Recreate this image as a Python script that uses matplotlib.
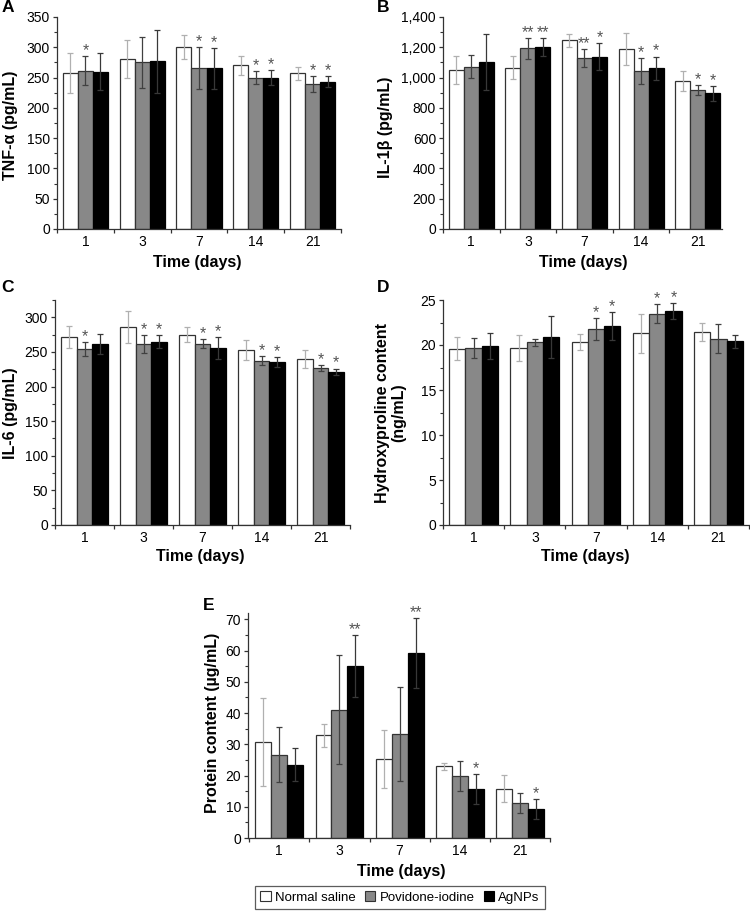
import numpy as np
import matplotlib.pyplot as plt
from matplotlib.patches import Patch
from matplotlib.ticker import MultipleLocator, FuncFormatter, FixedLocator

plt.rcParams['font.family'] = ['Liberation Sans', 'DejaVu Sans']

days = ['1', '3', '7', '14', '21']
groups = ['Normal saline', 'Povidone-iodine', 'AgNPs']

# A - TNF-alpha (pg/mL), rows = saline, povidone, AgNPs
tnf_mean = [[257, 281, 300, 270, 257],
            [261, 275, 266, 250, 239],
            [260, 277, 265, 250, 243]]
tnf_err = [[33, 31, 20, 15, 11],
           [24, 42, 35, 11, 13],
           [31, 52, 34, 12, 9]]
tnf_stars = [['', '', '', '', ''],
             ['*', '', '*', '*', '*'],
             ['', '', '*', '*', '*']]

# B - IL-1beta (pg/mL)
il1b_mean = [[1050, 1065, 1248, 1187, 980],
             [1072, 1193, 1130, 1043, 917],
             [1102, 1204, 1139, 1061, 896]]
il1b_err = [[93, 76, 43, 106, 66],
            [76, 70, 61, 85, 35],
            [185, 59, 90, 78, 50]]
il1b_stars = [['', '', '', '', ''],
              ['', '**', '**', '*', '*'],
              ['', '**', '*', '*', '*']]

# C - IL-6 (pg/mL)
il6_mean = [[271.5, 286.5, 275, 253, 240],
            [254, 261.5, 262, 237.5, 226.5],
            [261.5, 265, 256, 235, 221]]
il6_err = [[16, 23, 11, 14, 13],
           [10, 12.5, 6, 6, 4],
           [14, 9, 16, 7, 5]]
il6_stars = [['', '', '', '', ''],
             ['*', '*', '*', '*', '*'],
             ['', '*', '*', '*', '*']]

# D - Hydroxyproline content (ng/mL)
hyp_mean = [[19.6, 19.7, 20.3, 21.3, 21.4],
            [19.7, 20.3, 21.8, 23.5, 20.7],
            [19.9, 20.9, 22.1, 23.8, 20.4]]
hyp_err = [[1.25, 1.45, 0.9, 2.2, 1.0],
           [1.1, 0.4, 1.2, 1.0, 1.6],
           [1.4, 2.3, 1.55, 0.9, 0.75]]
hyp_stars = [['', '', '', '', ''],
             ['', '', '*', '*', ''],
             ['', '', '*', '*', '']]

# E - Protein content (ug/mL)
prot_mean = [[30.7, 32.9, 25.3, 22.9, 15.8],
             [26.7, 41.1, 33.2, 20.0, 11.3],
             [23.5, 55.1, 59.3, 15.6, 9.4]]
prot_err = [[14, 3.7, 9.4, 1.1, 4.4],
            [8.8, 17.4, 15.1, 4.8, 3.2],
            [5.2, 10, 11.2, 4.8, 3.2]]
prot_stars = [['', '', '', '', ''],
              ['', '', '', '', ''],
              ['', '**', '**', '*', '*']]

face = ['white', '#888888', 'black']
edge = ['#333333', '#333333', 'black']
ecol = ['#b0b0b0', '#404040', '#383838']

W, H = 750, 913
fig = plt.figure(figsize=(7.5, 9.13), dpi=100)


def rect(l, r, t, b):
    return [l / W, 1 - b / H, (r - l) / W, (b - t) / H]


def panel(box, mean, err, stars, ylim, major, minor, xlim=(-0.5, 4.5), fmt=None):
    ax = fig.add_axes(rect(*box))
    x = np.arange(len(days))
    w = 0.265
    for i in range(3):
        xs = x + (i - 1) * w
        ax.bar(xs, mean[i], w, color=face[i], edgecolor=edge[i], linewidth=0.9, zorder=2)
        ax.errorbar(xs, mean[i], yerr=err[i], fmt='none', ecolor=ecol[i],
                    elinewidth=0.9, capsize=2.5, capthick=0.9, zorder=3)
        for j in range(len(days)):
            if stars[i][j]:
                ax.annotate(stars[i][j], (xs[j], mean[i][j] + err[i][j]),
                            xytext=(0, -1.5), textcoords='offset points',
                            ha='center', va='bottom', fontsize=11.5, color='#555555')
    ax.set_xlim(*xlim)
    ax.set_ylim(*ylim)
    ax.spines['top'].set_visible(False)
    ax.spines['right'].set_visible(False)
    for s in ['left', 'bottom']:
        ax.spines[s].set_linewidth(0.9)
        ax.spines[s].set_color('#333333')
    ax.yaxis.set_major_locator(MultipleLocator(major))
    ax.yaxis.set_minor_locator(MultipleLocator(minor))
    if fmt:
        ax.yaxis.set_major_formatter(FuncFormatter(fmt))
    ax.xaxis.set_major_locator(FixedLocator(np.arange(-0.5, 5, 1)))
    ax.xaxis.set_minor_locator(FixedLocator(x))
    ax.xaxis.set_major_formatter(FuncFormatter(lambda v, p: ''))
    ax.set_xticklabels(days, minor=True)
    ax.tick_params(axis='x', which='minor', length=0, labelsize=10, pad=4)
    ax.tick_params(axis='x', which='major', length=3, width=0.9, color='#333333')
    ax.tick_params(axis='y', which='major', length=3, width=0.9, labelsize=10, pad=2, color='#333333')
    ax.tick_params(axis='y', which='minor', length=2, width=0.8, color='#333333')
    return ax


panel((57, 341, 17, 229), tnf_mean, tnf_err, tnf_stars, (0, 350), 50, 25)
panel((443, 722, 17, 229), il1b_mean, il1b_err, il1b_stars, (0, 1400), 200, 100,
      xlim=(-0.5, 4.43), fmt=lambda v, p: f'{v:,.0f}')
panel((55, 350, 300, 525), il6_mean, il6_err, il6_stars, (0, 325), 50, 25)
panel((443, 749, 300, 525), hyp_mean, hyp_err, hyp_stars, (0, 25), 5, 2.5)
panel((248, 550, 613, 838), prot_mean, prot_err, prot_stars, (0, 72), 10, 5, xlim=(-0.52, 4.5))


def ftext(x, y, s, **kw):
    fig.text(x / W, 1 - y / H, s, ha='center', va='center', **kw)


lab = dict(fontsize=11.5, fontweight='bold')
ftext(10.5, 125, 'TNF-α (pg/mL)', rotation=90, **lab)
ftext(385.5, 127, 'IL-1β (pg/mL)', rotation=90, **lab)
ftext(11, 413, 'IL-6 (pg/mL)', rotation=90, **lab)
ftext(391, 413, 'Hydroxyproline content\n(ng/mL)', rotation=90, linespacing=1.1, **lab)
ftext(213, 723, 'Protein content (µg/mL)', rotation=90, **lab)

for (x, y) in [(197, 262), (583, 262), (200, 556), (585, 556), (401, 871)]:
    ftext(x, y, 'Time (days)', **lab)

for (x, y, s) in [(8, 8, 'A'), (383, 8, 'B'), (8, 288, 'C'), (383, 288, 'D'), (209, 606, 'E')]:
    ftext(x, y, s, fontsize=12.5, fontweight='bold')

handles = [Patch(facecolor=face[i], edgecolor=edge[i] if i < 2 else 'black', linewidth=0.8)
           for i in range(3)]
fig.legend(handles, groups, loc='center', bbox_to_anchor=(400 / W, 1 - 897.5 / H),
           ncol=3, fontsize=9.5, frameon=True, fancybox=False, edgecolor='#333333',
           handlelength=0.8, handleheight=0.8, handletextpad=0.3, columnspacing=0.7,
           borderpad=0.4).get_frame().set_linewidth(0.9)

plt.savefig('out.png', dpi=100)
